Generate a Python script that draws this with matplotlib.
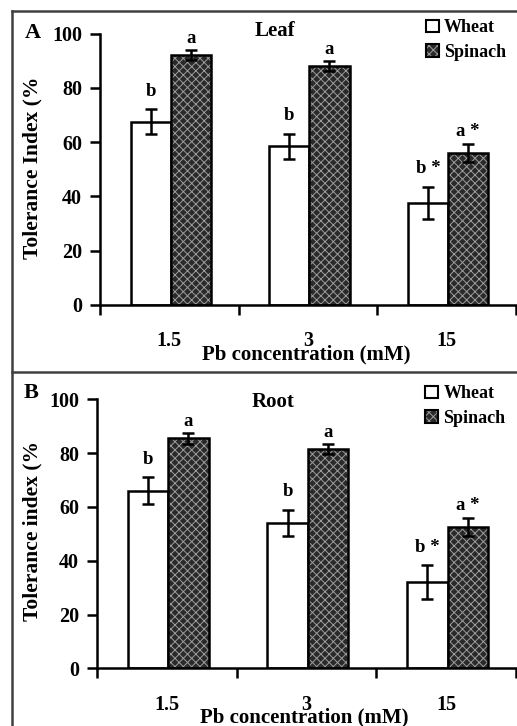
import matplotlib.pyplot as plt
from matplotlib.patches import Patch
from matplotlib.legend_handler import HandlerTuple
from matplotlib.lines import Line2D

plt.rcParams['font.family'] = 'Liberation Serif'
plt.rcParams['font.weight'] = 'bold'
plt.rcParams['hatch.linewidth'] = 0.7

concentrations = ['1.5', '3', '15']

# Leaf tolerance index (%)
leaf_wheat = [67.5, 58.5, 37.5]
leaf_wheat_err = [4.6, 4.6, 6.0]
leaf_spinach = [92.0, 88.0, 56.0]
leaf_spinach_err = [1.8, 1.8, 3.4]
leaf_wheat_sig = ['b', 'b', 'b *']
leaf_spinach_sig = ['a', 'a', 'a *']

# Root tolerance index (%)
root_wheat = [66.0, 54.0, 32.0]
root_wheat_err = [5.0, 5.0, 6.3]
root_spinach = [85.5, 81.5, 52.5]
root_spinach_err = [2.0, 1.7, 3.5]
root_wheat_sig = ['b', 'b', 'b *']
root_spinach_sig = ['a', 'a', 'a *']

W, H = 517, 726
fig = plt.figure(figsize=(W / 100, H / 100), dpi=100)

DARK = '#2a2a2a'
DOTS = '#9c9c9c'
width = 0.29
LW = 1.8


def panel(rect, wheat, wheat_err, spinach, spinach_err, wsig, ssig,
          letter, title, ylabel, ylab_x, ylab_y, letter_pos, title_pos, leg_y):
    ax = fig.add_axes(rect)
    x = range(len(concentrations))
    xw = [i - width / 2 + 0.01 for i in x]
    xs = [i + width / 2 + 0.01 for i in x]

    ax.bar(xw, wheat, width, color='white', edgecolor='black', linewidth=LW, zorder=2)
    # spinach bars: dotted fill first, then a black outline on top
    ax.bar(xs, spinach, width, color=DARK, edgecolor=DOTS, hatch='xxxx', linewidth=0, zorder=2)
    ax.bar(xs, spinach, width, fill=False, edgecolor='black', linewidth=LW, zorder=3)

    ax.errorbar(xw, wheat, yerr=wheat_err, fmt='none', ecolor='black', elinewidth=LW,
                capsize=4, capthick=LW, zorder=4)
    ax.errorbar(xs, spinach, yerr=spinach_err, fmt='none', ecolor='black', elinewidth=LW,
                capsize=4, capthick=LW, zorder=4)

    for xi, v, e, s in zip(xw, wheat, wheat_err, wsig):
        ax.text(xi, v + e + 3.5, s, ha='center', va='bottom', fontsize=13.5, fontweight='bold')
    for xi, v, e, s in zip(xs, spinach, spinach_err, ssig):
        ax.text(xi, v + e + 1.2, s, ha='center', va='bottom', fontsize=13.5, fontweight='bold')

    ax.set_xlim(-0.5, len(concentrations) - 0.5)
    ax.set_ylim(0, 100)
    ax.set_yticks([0, 20, 40, 60, 80, 100])
    ax.set_xticks([-0.5, 0.5, 1.5, 2.5])
    ax.set_xticklabels([])
    ax.set_xticks(list(x), minor=True)
    ax.set_xticklabels(concentrations, minor=True)
    ax.tick_params(axis='x', which='minor', length=0, pad=19, labelsize=14.5)
    ax.tick_params(axis='x', which='major', direction='out', length=7, width=LW)
    ax.tick_params(axis='y', direction='out', length=7, width=LW, labelsize=14.5, pad=6)
    for side in ['top', 'right']:
        ax.spines[side].set_visible(False)
    for side in ['left', 'bottom']:
        ax.spines[side].set_linewidth(LW)

    ax.set_xlabel('Pb concentration (mM)', fontsize=15, fontweight='bold')
    ax.xaxis.set_label_coords(0.495, -0.145)
    ax.set_ylabel(ylabel, fontsize=15.5, fontweight='bold')
    ax.yaxis.set_label_coords(ylab_x, ylab_y)

    ax.text(*letter_pos, letter, transform=ax.transAxes, fontsize=16, fontweight='bold',
            ha='center', va='center')
    ax.text(*title_pos, title, transform=ax.transAxes, fontsize=15, fontweight='bold',
            ha='center', va='center')

    h_wheat = Patch(facecolor='white', edgecolor='black', linewidth=1.5)
    h_spin = (Patch(facecolor=DARK, edgecolor=DOTS, hatch='xxxx', linewidth=0),
              Patch(fill=False, edgecolor='black', linewidth=1.5))
    ax.legend([h_wheat, h_spin], ['Wheat', 'Spinach'], loc='upper left',
              bbox_to_anchor=(0.762, leg_y), frameon=False, fontsize=13, borderpad=0,
              handlelength=0.7, handleheight=0.7, handletextpad=0.3, labelspacing=0.4,
              handler_map={tuple: HandlerTuple(ndivide=1)})
    return ax


axA = panel([100 / W, 1 - 305 / H, 416 / W, 271.5 / H],
            leaf_wheat, leaf_wheat_err, leaf_spinach, leaf_spinach_err,
            leaf_wheat_sig, leaf_spinach_sig, 'A', 'Leaf', 'Tolerance Index (%',
            -0.139, 0.505, (-0.161, 1.0), (0.42, 1.009), 1.085)
axB = panel([97 / W, 1 - 668.3 / H, 419 / W, 269 / H],
            root_wheat, root_wheat_err, root_spinach, root_spinach_err,
            root_wheat_sig, root_spinach_sig, 'B', 'Root', 'Tolerance index (%',
            -0.129, 0.51, (-0.158, 1.023), (0.42, 0.99), 1.085)

# panel frames
frame = dict(color='#404040', linewidth=1.8, transform=fig.transFigure)
fig.add_artist(Line2D([12 / W, 12 / W], [0, 1 - 11 / H], **frame))
fig.add_artist(Line2D([12 / W, 1], [1 - 11 / H, 1 - 11 / H], **frame))
fig.add_artist(Line2D([12 / W, 1], [1 - 372 / H, 1 - 372 / H], **frame))

fig.savefig('out.png', dpi=100, facecolor='white')
